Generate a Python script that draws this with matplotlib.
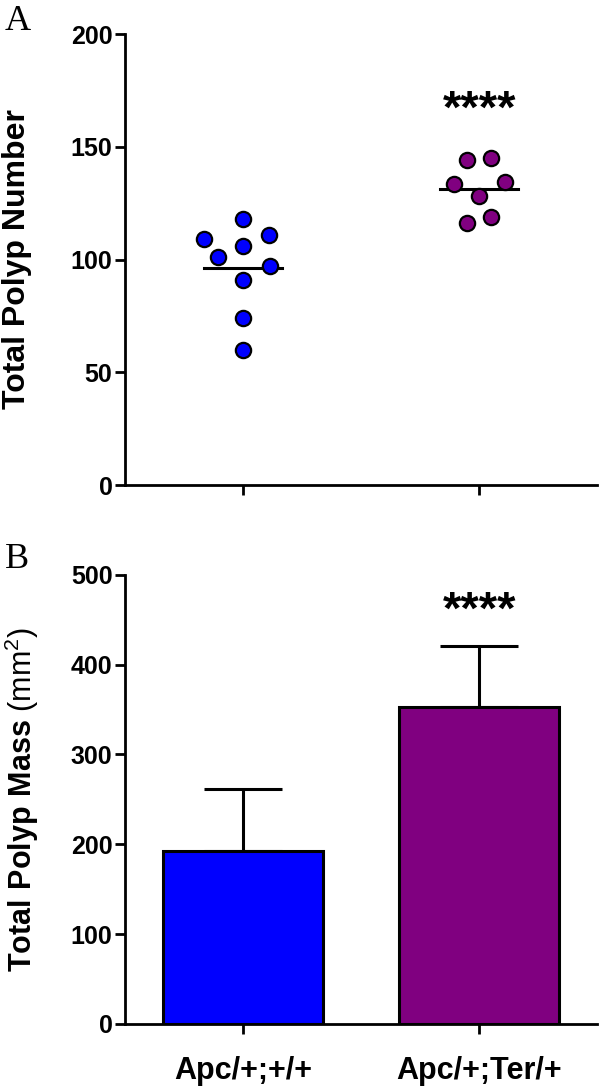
import matplotlib
matplotlib.use("Agg")
import matplotlib.pyplot as plt
import numpy as np

plt.rcParams['font.family'] = ['Liberation Sans', 'DejaVu Sans']
plt.rcParams['mathtext.fontset'] = 'custom'
plt.rcParams['mathtext.rm'] = 'Liberation Sans'
plt.rcParams['mathtext.bf'] = 'Liberation Sans:bold'

# data
groups = ['Apc/+;+/+', 'Apc/+;Ter/+']
colors = ['#0000FF', '#800080']

wt_number = [118, 109, 111, 106, 101, 97, 91, 74, 60]
wt_jitter = [0, -0.166, 0.11, 0, -0.106, 0.115, 0, 0, 0]
ter_number = [144, 145, 133.5, 134.5, 128, 116, 119]
ter_jitter = [-0.051, 0.051, -0.106, 0.11, 0, -0.051, 0.051]

mass_mean = [192, 353]
mass_err = [70, 68]

number_ticks = [0, 50, 100, 150, 200]
mass_ticks = [0, 100, 200, 300, 400, 500]

fig = plt.figure(figsize=(6, 10.9), dpi=100)

ax1 = fig.add_axes([0.2083, 0.555, 0.787, 0.4138])
ax2 = fig.add_axes([0.2083, 0.0606, 0.787, 0.412])


def style(ax):
    for s in ['top', 'right']:
        ax.spines[s].set_visible(False)
    for s in ['left', 'bottom']:
        ax.spines[s].set_linewidth(2)
    ax.tick_params(axis='both', width=2, length=7, pad=2, labelsize=18)
    ax.tick_params(axis='x', labelsize=22, pad=16)
    for lab in ax.get_yticklabels() + ax.get_xticklabels():
        lab.set_fontweight('bold')
    ax.set_xlim(-0.5, 1.5)
    ax.set_xticks([0, 1])


# panel A
all_vals = [wt_number, ter_number]
all_jit = [wt_jitter, ter_jitter]
for i in range(2):
    xs = i + np.array(all_jit[i])
    ax1.plot(xs, all_vals[i], 'o', ms=11, mfc=colors[i], mec='black', mew=1.6,
             zorder=3, clip_on=False)
    m = np.mean(all_vals[i])
    ax1.plot([i - 0.166, i + 0.166], [m, m], color='black', lw=2.2, zorder=2)
ax1.set_ylim(0, 200)
ax1.set_yticks(number_ticks)
style(ax1)
ax1.set_xticklabels([])
ax1.set_ylabel('Total Polyp Number', fontsize=23, fontweight='bold')
ax1.yaxis.set_label_coords(-0.197, 0.5)
ax1.text(1, 166, '****', ha='center', va='center', fontsize=34, fontweight='bold')

# panel B
ax2.bar([0, 1], mass_mean, width=0.68, color=colors, edgecolor='black',
        linewidth=2.2, zorder=2)
ax2.errorbar([0, 1], mass_mean, yerr=[[0, 0], mass_err], fmt='none',
             ecolor='black', elinewidth=2.2, capsize=28, capthick=2.2, zorder=1)
ax2.set_ylim(0, 500)
ax2.set_yticks(mass_ticks)
ax2.set_xticks([0, 1])
ax2.set_xticklabels(groups)
style(ax2)
ax2.set_ylabel(r'$\mathbf{Total\ Polyp\ Mass}$ (mm$^2$)', fontsize=22)
ax2.yaxis.set_label_coords(-0.178, 0.5)
ax2.text(1, 459, '****', ha='center', va='center', fontsize=34, fontweight='bold')

fig.text(0.008, 0.995, 'A', family='Liberation Serif', fontsize=26, va='top')
fig.text(0.008, 0.502, 'B', family='Liberation Serif', fontsize=26, va='top')

fig.savefig('out.png', dpi=100)
